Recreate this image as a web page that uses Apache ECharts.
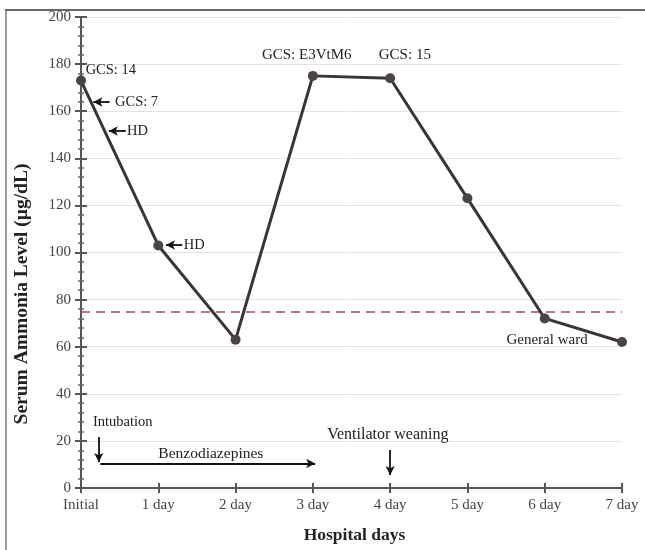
<!DOCTYPE html>
<html>
<head>
<meta charset="utf-8">
<script src="https://cdn.jsdelivr.net/npm/echarts@6/dist/echarts.min.js"></script>
<style>html,body{margin:0;padding:0;background:#fff;}#c{width:645px;height:550px;}</style>
</head>
<body>
<div id="c"></div>
<script>
var categories = ['Initial','1 day','2 day','3 day','4 day','5 day','6 day','7 day'];
var ammonia = [173, 103, 63, 175, 174, 123, 72, 62];
var yTicks = [0,20,40,60,80,100,120,140,160,180,200];
var threshold = 75;
var xTitle = 'Hospital days';
var yTitle = 'Serum Ammonia Level (µg/dL)';

// annotation texts: [x (day), y (value), text]
var textNotes = [
  [0.06, 177.5, 'GCS: 14'],
  [0.44, 163.9, 'GCS: 7'],
  [0.595, 151.6, 'HD'],
  [1.33, 103.2, 'HD'],
  [2.92, 183.9, 'GCS: E3VtM6'],
  [4.19, 183.9, 'GCS: 15'],
  [6.03, 62.8, 'General ward'],
  [0.155, 28, 'Intubation'],
  [1.68, 14.6, 'Benzodiazepines'],
  [3.97, 22.5, 'Ventilator weaning']
];
var noteAlign = ['left','left','left','left','center','center','center','left','center','center'];
var noteSize = [14.5,14.5,14.5,14.5,15,15,15,14.5,15.5,16];
// arrows: [x1, y1, x2, y2] (head at x2,y2)
var arrows = [
  [0.37, 163.9, 0.16, 163.9],
  [0.58, 151.6, 0.36, 151.6],
  [1.31, 103.2, 1.10, 103.2],
  [0.23, 21.7, 0.23, 11.0],
  [0.25, 10.4, 3.03, 10.4],
  [4.0, 16.1, 4.0, 5.5]
];

var FONT = 'Liberation Serif';
var chart = echarts.init(document.getElementById('c'));

var lineData = ammonia.map(function(v,i){return [i, v];});

var option = {
  backgroundColor: '#fff',
  animation: false,
  textStyle: {fontFamily: FONT},
  graphic: [
    {type:'line', shape:{x1:5,y1:10,x2:645,y2:10}, style:{stroke:'#333', lineWidth:1.5}},
    {type:'line', shape:{x1:6,y1:10,x2:6,y2:550}, style:{stroke:'#777', lineWidth:1.5}},
    {type:'text', x:22, y:294, rotation: Math.PI/2,
      style:{text: yTitle, fontFamily: FONT, fontSize: 19.5, fontWeight:'bold', fill:'#222',
        textAlign:'center', textVerticalAlign:'middle'}}
  ],
  grid: {left: 81, right: 23, top: 17, bottom: 62},
  xAxis: [{
    type: 'value', min: 0, max: 7, interval: 1,
    name: xTitle, nameLocation: 'middle', nameGap: 38,
    nameTextStyle: {fontFamily: FONT, fontSize: 17.5, fontWeight: 'bold', color: '#222', padding:[0,0,0,6]},
    axisLine: {show: true, onZero: false, lineStyle: {color: '#555', width: 2}},
    axisTick: {show: true, length: 5, lineStyle: {color: '#555', width: 2}},
    axisLabel: {fontFamily: FONT, fontSize: 15, color: '#444', margin: 10,
      formatter: function(v){return categories[Math.round(v)];}},
    splitLine: {show: false}
  },{
    type: 'value', min: 0, max: 7, interval: 1, position: 'bottom',
    axisLine: {show: false},
    axisTick: {show: true, inside: true, length: 5, lineStyle: {color: '#555', width: 2}},
    axisLabel: {show: false}, splitLine: {show: false}
  }],
  yAxis: [{
    type: 'value', min: yTicks[0], max: yTicks[yTicks.length-1], interval: 20,
    axisLine: {show: true, lineStyle: {color: '#555', width: 2}},
    axisTick: {show: true, length: 6, lineStyle: {color: '#555', width: 2}},
    minorTick: {show: true, splitNumber: 5, length: 3, lineStyle: {color: '#666', width: 1.5}},
    axisLabel: {fontFamily: FONT, fontSize: 15, color: '#444', margin: 10},
    splitLine: {show: true, lineStyle: {color: '#e4e4e4', width: 1}}
  },{
    type: 'value', min: yTicks[0], max: yTicks[yTicks.length-1], interval: 20, position: 'left',
    axisLine: {show: false},
    axisTick: {show: true, inside: true, length: 6, lineStyle: {color: '#555', width: 2}},
    minorTick: {show: true, splitNumber: 5, length: 3, lineStyle: {color: '#666', width: 1.5}},
    axisLabel: {show: false}, splitLine: {show: false}
  }],
  series: [{
    type: 'line',
    data: lineData,
    symbol: 'circle', symbolSize: 10,
    lineStyle: {color: '#3b3434', width: 3},
    itemStyle: {color: '#4a4444'},
    z: 5,
    markLine: {
      silent: true, symbol: ['none','none'],
      label: {show: false},
      lineStyle: {color: '#a0504a', type: [9,6], width: 1.5},
      data: [{yAxis: threshold}]
    },
    markPoint: {
      silent: true,
      symbol: 'circle', symbolSize: 0,
      data: textNotes.map(function(t, i){
        return {coord: [t[0], t[1]], label: {show: true, formatter: t[2], align: noteAlign[i],
          verticalAlign: 'middle', position: 'inside', offset: [0,0],
          fontFamily: FONT, fontSize: noteSize[i], color: '#222'}};
      })
    }
  },{
    type: 'line', data: [], silent: true,
    markLine: {
      silent: true, symbol: ['none','arrow'], symbolSize: [7, 9],
      label: {show: false},
      lineStyle: {color: '#111', type: 'solid', width: 1.8},
      data: arrows.map(function(a){return [{coord:[a[0],a[1]]},{coord:[a[2],a[3]]}];})
    }
  }]
};
chart.setOption(option);
</script>
</body>
</html>
